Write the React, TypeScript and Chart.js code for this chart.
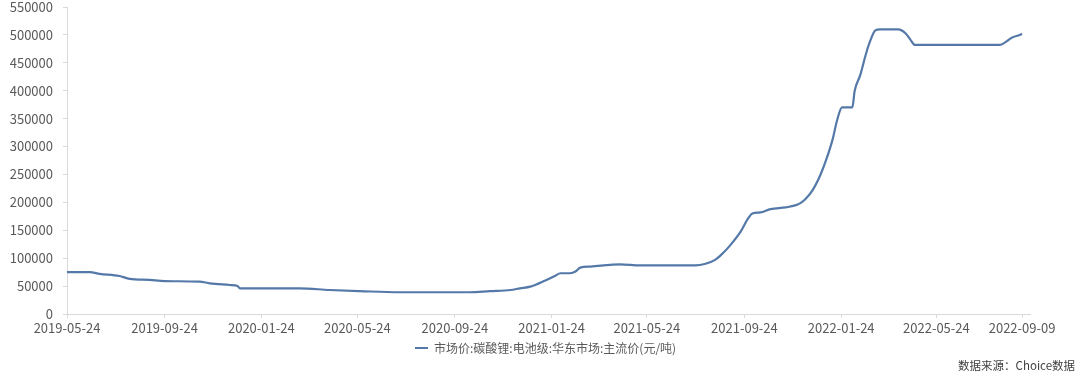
import React, { useEffect, useRef } from "react";
import { Chart, registerables } from "chart.js";

Chart.register(...registerables);

const startDate = "2019-05-24";
const endAxisDate = "2022-09-19";

const tickDates = [
  "2019-05-24", "2019-09-24", "2020-01-24", "2020-05-24", "2020-09-24",
  "2021-01-24", "2021-05-24", "2021-09-24", "2022-01-24", "2022-05-24", "2022-09-09",
];

const pointDates = [
  "2019-05-24", "2019-06-22", "2019-07-04", "2019-07-29", "2019-08-11", "2019-09-05",
  "2019-09-24", "2019-11-07", "2019-11-20", "2019-12-15", "2019-12-25", "2019-12-28",
  "2020-03-12", "2020-04-19", "2020-05-27", "2020-07-16", "2020-10-13", "2020-11-07",
  "2020-12-03", "2020-12-15", "2020-12-28", "2021-01-16", "2021-01-28", "2021-02-04",
  "2021-02-16", "2021-02-23", "2021-03-01", "2021-03-14", "2021-04-08", "2021-04-20",
  "2021-05-16", "2021-07-24", "2021-08-06", "2021-08-18", "2021-08-25", "2021-09-06",
  "2021-09-19", "2021-09-29", "2021-10-04", "2021-10-14", "2021-10-27", "2021-11-15",
  "2021-11-28", "2021-12-04", "2021-12-10", "2021-12-19", "2021-12-29", "2022-01-05",
  "2022-01-13", "2022-01-19", "2022-01-25", "2022-02-07", "2022-02-10", "2022-02-17",
  "2022-02-24", "2022-03-01", "2022-03-08", "2022-03-14", "2022-04-06", "2022-04-15",
  "2022-04-21", "2022-04-27", "2022-08-12", "2022-08-19", "2022-08-27", "2022-09-06",
  "2022-09-09",
];

const pointValues = [
  75000, 75000, 72000, 68000, 63000, 61000,
  59000, 58000, 55000, 52000, 50000, 46000,
  46000, 43000, 41000, 39000, 39000, 41000,
  43000, 46000, 49000, 60000, 68000, 73000,
  73000, 76000, 83000, 85000, 88000, 89000,
  87000, 87000, 90000, 97000, 105000, 123000,
  147000, 172000, 180000, 182000, 188000, 191000,
  195000, 199000, 206000, 222000, 250000, 276000,
  312000, 348000, 370000, 370000, 400000, 428000,
  465000, 487000, 508000, 510000, 510000, 503000,
  492000, 482000, 482000, 487000, 495000, 500000,
  502000,
];

const seriesName = "市场价:碳酸锂:电池级:华东市场:主流价(元/吨)";
const sourceText = "数据来源：Choice数据";

const dayIndex = (d: string) => {
  const [y, m, dd] = d.split("-").map(Number);
  const [sy, sm, sd] = startDate.split("-").map(Number);
  return Math.round((Date.UTC(y, m - 1, dd) - Date.UTC(sy, sm - 1, sd)) / 86400000);
};

const LINE_COLOR = "#5479a9";
const FONT = "'Noto Sans CJK SC', 'Noto Sans', sans-serif";

export default function App() {
  const ref = useRef<HTMLCanvasElement | null>(null);

  useEffect(() => {
    if (!ref.current) return;
    const tickMap = new Map<number, string>();
    tickDates.forEach((d) => tickMap.set(dayIndex(d), d));

    const extraText = {
      id: "extraText",
      afterDraw(chart: any) {
        const ctx = chart.ctx;
        ctx.save();
        ctx.strokeStyle = LINE_COLOR;
        ctx.lineWidth = 2;
        ctx.beginPath();
        ctx.moveTo(415, 348);
        ctx.lineTo(428, 348);
        ctx.stroke();
        ctx.fillStyle = "#595959";
        ctx.font = `12px ${FONT}`;
        ctx.textBaseline = "middle";
        ctx.textAlign = "left";
        ctx.fillText(seriesName, 434, 348);
        ctx.fillStyle = "#404040";
        ctx.font = `11.5px ${FONT}`;
        ctx.textAlign = "right";
        ctx.fillText(sourceText, 1075, 366);
        ctx.restore();
      },
    };

    const chart = new Chart(ref.current, {
      type: "line",
      data: {
        datasets: [
          {
            label: seriesName,
            data: pointDates.map((d, i) => ({ x: dayIndex(d), y: pointValues[i] })),
            borderColor: LINE_COLOR,
            borderWidth: 2.2,
            pointRadius: 0,
            fill: false,
            cubicInterpolationMode: "monotone",
          },
        ],
      },
      options: {
        animation: false,
        responsive: false,
        maintainAspectRatio: false,
        layout: { padding: { left: 0, right: 50, top: 0, bottom: 42 } },
        plugins: {
          legend: { display: false },
          tooltip: { enabled: false },
        },
        scales: {
          x: {
            type: "linear",
            min: 0,
            max: dayIndex(endAxisDate),
            afterBuildTicks: (scale: any) => {
              scale.ticks = tickDates.map((d) => ({ value: dayIndex(d) }));
            },
            afterFit: (scale: any) => {
              scale.height = 20;
            },
            ticks: {
              autoSkip: false,
              maxRotation: 0,
              minRotation: 0,
              padding: 2,
              color: "#595959",
              font: { family: FONT, size: 13 },
              callback: (v: any) => tickMap.get(Number(v)) ?? "",
            },
            grid: {
              display: true,
              drawOnChartArea: false,
              drawTicks: true,
              tickLength: 4,
              color: "#d9d9d9",
            },
            border: { display: true, color: "#d9d9d9", width: 1 },
          },
          y: {
            min: 0,
            max: 550000,
            afterBuildTicks: (scale: any) => {
              const t = [];
              for (let v = 0; v <= 550000; v += 50000) t.push({ value: v });
              scale.ticks = t;
            },
            afterFit: (scale: any) => {
              scale.width = 67;
              scale.paddingTop = 7;
            },
            ticks: {
              padding: 10,
              color: "#595959",
              font: { family: FONT, size: 13 },
              callback: (v: any) => String(v),
            },
            grid: {
              display: true,
              drawOnChartArea: false,
              drawTicks: true,
              tickLength: 4,
              color: "#d9d9d9",
            },
            border: { display: true, color: "#d9d9d9", width: 1 },
          },
        },
      },
      plugins: [extraText],
    } as any);

    return () => chart.destroy();
  }, []);

  return (
    <div style={{ position: "absolute", left: 0, top: 0, width: 1080, height: 376, background: "#fff" }}>
      <canvas ref={ref} width={1080} height={376} style={{ width: 1080, height: 376, display: "block" }} />
    </div>
  );
}
